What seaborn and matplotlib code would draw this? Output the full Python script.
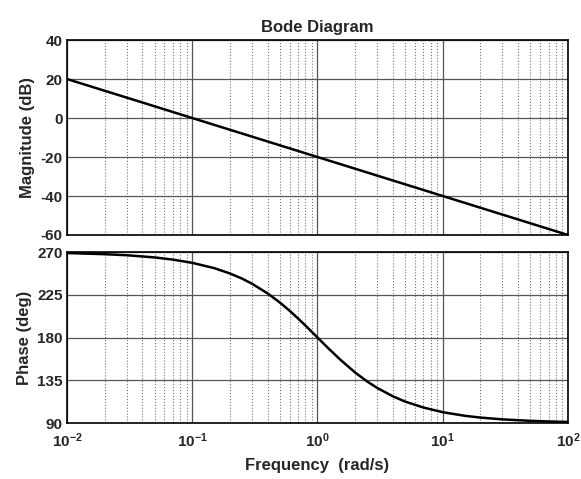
import pandas as pd
import matplotlib
matplotlib.use("Agg")
import matplotlib.pyplot as plt
import seaborn as sns
from matplotlib.ticker import LogLocator, NullFormatter, FixedLocator

sns.set_style("white")
plt.rcParams['font.family'] = ['Liberation Sans', 'DejaVu Sans']
plt.rcParams['font.weight'] = 'bold'
plt.rcParams['axes.unicode_minus'] = False
plt.rcParams['mathtext.fontset'] = 'custom'
plt.rcParams['mathtext.rm'] = 'Liberation Sans:bold'
plt.rcParams['mathtext.bf'] = 'Liberation Sans:bold'
plt.rcParams['mathtext.default'] = 'bf'

# 주파수 (rad/s)
mag_freq = [0.01, 0.1, 1, 10, 100]
mag_db = [20, 0, -20, -40, -60]

phase_freq = [0.01, 0.02, 0.03, 0.05, 0.07, 0.1, 0.15, 0.2, 0.25, 0.3, 0.4, 0.5,
              0.6, 0.7, 0.8, 1, 1.2, 1.5, 2, 2.5, 3, 4, 5, 7, 10, 15, 20, 30,
              50, 70, 100]
phase_deg = [268.9, 267.7, 266.6, 264.3, 262.0, 258.6, 253.0, 247.4, 242.0,
             236.6, 226.4, 216.9, 208.1, 200.0, 192.7, 180, 169.6, 157.4,
             143.1, 133.6, 126.9, 118.1, 112.6, 106.3, 101.4, 97.6, 95.7,
             93.8, 92.3, 91.6, 91.1]

mag_ticks = [-60, -40, -20, 0, 20, 40]
phase_ticks = [90, 135, 180, 225, 270]

mag_df = pd.DataFrame({'freq': mag_freq, 'mag': mag_db})
phase_df = pd.DataFrame({'freq': phase_freq, 'phase': phase_deg})

fig = plt.figure(figsize=(5.81, 4.79), dpi=100)
ax1 = fig.add_axes([0.1153, 0.5094, 0.8623, 0.407])
ax2 = fig.add_axes([0.1153, 0.1169, 0.8623, 0.357])

sns.lineplot(data=mag_df, x='freq', y='mag', ax=ax1, color='black', linewidth=1.8)
sns.lineplot(data=phase_df, x='freq', y='phase', ax=ax2, color='black', linewidth=1.8)

for ax, ticks in [(ax1, mag_ticks), (ax2, phase_ticks)]:
    ax.set_xscale('log')
    ax.set_xlim(0.01, 100)
    ax.set_ylim(ticks[0], ticks[-1])
    ax.yaxis.set_major_locator(FixedLocator(ticks))
    ax.xaxis.set_major_locator(LogLocator(base=10, numticks=10))
    ax.xaxis.set_minor_locator(LogLocator(base=10, subs=range(2, 10), numticks=10))
    ax.xaxis.set_minor_formatter(NullFormatter())
    ax.grid(True, which='major', color='#555555', linewidth=0.9, linestyle='-')
    ax.grid(True, which='minor', axis='x', color='#777777', linewidth=0.8, linestyle=':')
    ax.tick_params(which='both', direction='in', length=0, labelsize=11, pad=3)
    for s in ax.spines.values():
        s.set_color('black')
        s.set_linewidth(1.2)
    for lbl in ax.get_yticklabels():
        lbl.set_fontweight('bold')

ax1.set_xticklabels([])
ax1.set_xlabel('')
ax1.set_ylabel('Magnitude (dB)', fontsize=12, fontweight='bold', labelpad=4)
ax1.set_title('Bode Diagram', fontsize=12, fontweight='bold', pad=6)

ax2.set_ylabel('Phase (deg)', fontsize=12, fontweight='bold', labelpad=4)
ax2.set_xlabel('Frequency  (rad/s)', fontsize=12, fontweight='bold', labelpad=6)
ax2.tick_params(axis='x', pad=6)

fig.savefig('out.png', dpi=100)
